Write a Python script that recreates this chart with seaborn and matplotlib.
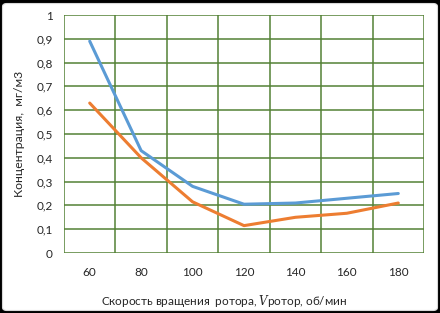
import matplotlib
matplotlib.use("Agg")
import matplotlib.pyplot as plt
from matplotlib.patches import FancyBboxPatch
import seaborn as sns
import pandas as pd

categories = ["60", "80", "100", "120", "140", "160", "180"]
blue_values = [0.89, 0.43, 0.28, 0.205, 0.21, 0.23, 0.25]
orange_values = [0.63, 0.40, 0.215, 0.115, 0.15, 0.167, 0.21]
y_ticks = [0, 0.1, 0.2, 0.3, 0.4, 0.5, 0.6, 0.7, 0.8, 0.9, 1]
y_tick_labels = ["0", "0,1", "0,2", "0,3", "0,4", "0,5", "0,6", "0,7", "0,8", "0,9", "1"]

sns.set_theme(style="white")
plt.rcParams['font.family'] = ['Lato', 'DejaVu Sans']
plt.rcParams['mathtext.fontset'] = 'dejavuserif'

W, H = 440, 313
fig = plt.figure(figsize=(W / 100, H / 100), dpi=100, facecolor="black")
bg = FancyBboxPatch((2.5 / W, 2.5 / H), 435 / W, 307 / H,
                    boxstyle="round,pad=0,rounding_size=0.01",
                    transform=fig.transFigure, facecolor="white",
                    edgecolor="#D9D9D9", linewidth=0.8, zorder=-10)
fig.patches.append(bg)

ax = fig.add_axes([64 / W, 1 - 253 / H, 360 / W, 238 / H])
ax.set_facecolor("white")

df = pd.DataFrame({
    "x": categories * 2,
    "y": blue_values + orange_values,
    "s": ["blue"] * len(categories) + ["orange"] * len(categories),
})
sns.lineplot(data=df, x="x", y="y", hue="s", palette={"blue": "#5B9BD5", "orange": "#ED7D31"},
             linewidth=2.2, legend=False, ax=ax, sort=False)

grid_c = "#538135"
ax.set_xlim(-0.5, 6.5)
ax.set_ylim(0, 1)
ax.set_yticks(y_ticks)
ax.set_yticklabels(y_tick_labels)
for yv in y_ticks:
    ax.axhline(yv, color=grid_c, linewidth=1.1, zorder=0)
for xv in [i + 0.5 for i in range(-1, 7)]:
    ax.axvline(xv, color=grid_c, linewidth=1.1, zorder=0)
for s in ax.spines.values():
    s.set_visible(False)

txt_c = "#262626"
ax.tick_params(axis="x", length=0, pad=10, labelsize=8.5, colors=txt_c)
ax.tick_params(axis="y", length=0, pad=8, labelsize=8.5, colors=txt_c)

ax.set_xlabel(r"Скорость вращения  ротора, $\mathit{V}$ротор, об/мин", fontsize=8.5, color=txt_c)
ax.xaxis.set_label_coords((224 - 64) / 360, -(293 - 253) / 238)
ax.set_ylabel("Концентрация,  мг/м3", fontsize=8.8, color=txt_c, labelpad=8)

fig.savefig("out.png", dpi=100, facecolor="black")
